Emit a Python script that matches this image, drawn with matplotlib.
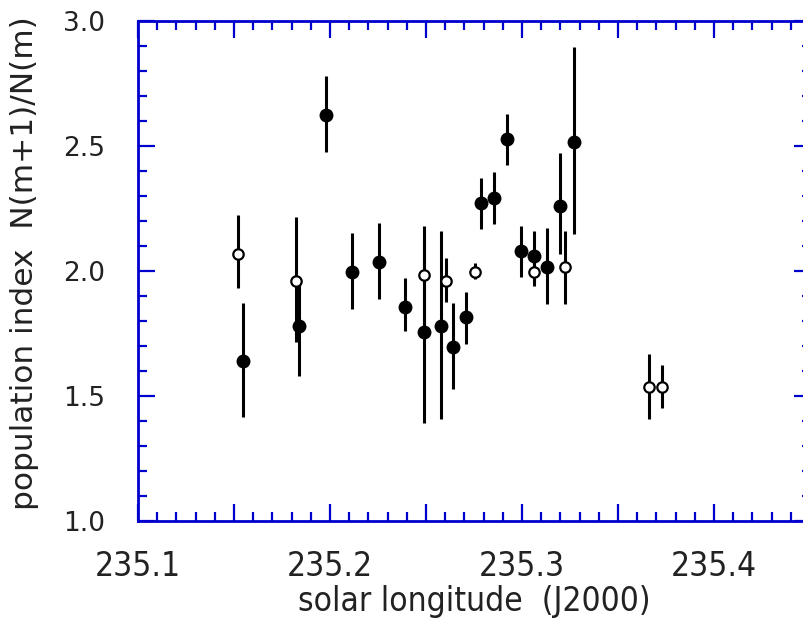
import matplotlib
matplotlib.use("Agg")
import matplotlib.pyplot as plt
from matplotlib.ticker import MultipleLocator, FuncFormatter
from matplotlib import font_manager

# filled circles: solar longitude, population index, upper end, lower end
fill_x = [235.1548, 235.1840, 235.1978, 235.2116, 235.2257, 235.2392, 235.2491,
          235.2578, 235.2642, 235.2708, 235.2785, 235.2853, 235.2923, 235.2993,
          235.3061, 235.3130, 235.3200, 235.3271]
fill_y = [1.641, 1.780, 2.624, 1.995, 2.035, 1.857, 1.757,
          1.780, 1.697, 1.815, 2.271, 2.293, 2.527, 2.080,
          2.062, 2.015, 2.260, 2.517]
fill_hi = [1.871, 1.950, 2.781, 2.151, 2.193, 1.971, 2.130,
           2.161, 1.873, 1.917, 2.373, 2.396, 2.629, 2.181,
           2.161, 2.171, 2.471, 2.895]
fill_lo = [1.417, 1.581, 2.475, 1.847, 1.889, 1.761, 1.391,
           1.407, 1.527, 1.708, 2.167, 2.187, 2.423, 1.975,
           1.960, 1.867, 2.068, 2.147]

# open circles
open_x = [235.1519, 235.1823, 235.2491, 235.2604, 235.2757, 235.3061, 235.3226,
          235.3660, 235.3728]
open_y = [2.068, 1.961, 1.984, 1.960, 1.995, 1.995, 2.016, 1.536, 1.536]
open_hi = [2.224, 2.215, 2.180, 2.053, 2.031, 2.040, 2.161, 1.669, 1.625]
open_lo = [1.931, 1.717, 1.790, 1.877, 1.967, 1.940, 1.867, 1.409, 1.453]

x_labels = ["235.1", "235.2", "235.3", "235.4"]
y_labels = ["1.0", "1.5", "2.0", "2.5", "3.0"]

names = {f.name for f in font_manager.fontManager.ttflist}
narrow = "Liberation Sans Narrow" if "Liberation Sans Narrow" in names else "DejaVu Sans"
narrow_stretch = "normal" if narrow == "Liberation Sans Narrow" else "condensed"

W, H = 804, 622
fig = plt.figure(figsize=(W / 100, H / 100), dpi=100)
ax = fig.add_axes([138 / W, 101 / H, 673 / W, 500 / H])

blue = "#0000CC"

def yerr(y, hi, lo):
    return [[v - l for v, l in zip(y, lo)], [h - v for v, h in zip(y, hi)]]

ax.errorbar(fill_x, fill_y, yerr=yerr(fill_y, fill_hi, fill_lo), fmt="o",
            color="black", ecolor="black", elinewidth=2.2, capsize=0,
            markersize=9, zorder=3)
ax.errorbar(open_x, open_y, yerr=yerr(open_y, open_hi, open_lo), fmt="o",
            color="black", ecolor="black", elinewidth=2.2, capsize=0,
            markersize=7.5, markerfacecolor="white", markeredgecolor="black",
            markeredgewidth=1.6, zorder=4)

ax.set_xlim(235.1, 235.4505)
ax.set_ylim(1.0, 3.0)

ax.xaxis.set_major_locator(MultipleLocator(0.05))
ax.xaxis.set_minor_locator(MultipleLocator(0.01))
ax.yaxis.set_major_locator(MultipleLocator(0.5))
ax.yaxis.set_minor_locator(MultipleLocator(0.1))

def xfmt(v, pos):
    s = "%.1f" % v
    if abs(v * 10 - round(v * 10)) < 1e-6 and s in x_labels:
        return s
    return ""

def yfmt(v, pos):
    s = "%.1f" % v
    return s if s in y_labels else ""

ax.xaxis.set_major_formatter(FuncFormatter(xfmt))
ax.yaxis.set_major_formatter(FuncFormatter(yfmt))

for sp in ax.spines.values():
    sp.set_color(blue)
    sp.set_linewidth(2.0)

ax.tick_params(which="both", direction="in", top=True, right=True,
               color=blue, width=1.6)
ax.tick_params(which="major", length=12)
ax.tick_params(which="minor", length=6.3)
ax.tick_params(axis="x", which="major", pad=21, labelsize=24, labelcolor="#222222")
ax.tick_params(axis="y", which="major", pad=24, labelsize=19, labelcolor="#222222")

for lab in ax.get_xticklabels():
    lab.set_fontfamily(narrow)
    lab.set_fontstretch(narrow_stretch)

ax.set_xlabel("solar longitude  (J2000)", fontsize=24, color="#222222",
              fontfamily=narrow, fontstretch=narrow_stretch, labelpad=1)
ax.set_ylabel("population index  N(m+1)/N(m)", fontsize=22.5, color="#222222")
ax.yaxis.set_label_coords(-0.147, 0.515)

fig.savefig("out.png", dpi=100)
